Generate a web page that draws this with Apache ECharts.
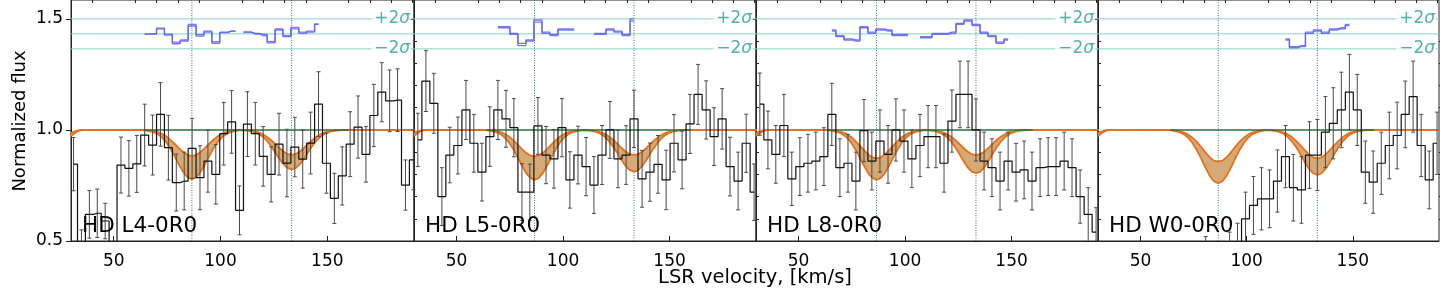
<!DOCTYPE html>
<html><head><meta charset="utf-8">
<script src="https://cdn.jsdelivr.net/npm/echarts@6/dist/echarts.min.js"></script>
<style>html,body{margin:0;padding:0;background:#fff}#c{width:1440px;height:288px}</style>
</head><body><div id="c"></div>
<script>
// ---------------- DATA ----------------
const panelNames = ['HD L4-0R0', 'HD L5-0R0', 'HD L8-0R0', 'HD W0-0R0'];
const componentVel = [86.6, 133.3];
const sigmaLevels = [1.5, 1.4325, 1.365];
const sigmaLabelLevels = [1.5, 1.365];
const sigmaLabels = ['+2σ', '−2σ'];
const fitWindow = [64, 160];
const xTicksMajor = [50, 100, 150];
const xTicksMinor = [40, 60, 70, 80, 90, 110, 120, 130, 140, 160, 170, 180, 190];
const yTicksMajor = [0.5, 1.0, 1.5];
const yTicksMinor = [0.6, 0.7, 0.8, 0.9, 1.1, 1.2, 1.3, 1.4];

// Panel 1: HD L4-0R0
const velL4 = [31.2,34.9,38.6,42.3,46.0,49.7,53.4,57.1,60.8,64.5,68.2,71.9,75.6,79.3,83.0,86.7,90.4,94.1,97.8,101.5,105.2,108.9,112.6,116.3,120.0,123.7,127.4,131.1,134.8,138.5,142.2,145.9,149.6,153.3,157.0,160.7,164.4,168.1,171.8,175.5,179.2,182.9,186.6,190.3];
const fluxL4 = [0.846,0.47,0.62,0.625,0.59,0.40,0.842,0.827,0.847,0.977,0.932,1.07,0.92,0.763,0.77,0.917,0.785,0.86,0.80,0.983,1.036,0.638,1.026,0.983,0.881,0.80,0.936,0.851,0.923,0.869,0.941,1.116,0.85,0.692,0.793,0.936,1.013,0.89,1.065,1.17,1.131,1.134,0.752,0.865];
const errL4 = [0.12,0.08,0.107,0.109,0.08,0.07,0.126,0.125,0.128,0.139,0.135,0.143,0.146,0.128,0.13,0.135,0.144,0.14,0.134,0.141,0.141,0.11,0.146,0.141,0.134,0.124,0.139,0.152,0.134,0.131,0.139,0.146,0.135,0.113,0.131,0.146,0.14,0.125,0.14,0.133,0.139,0.141,0.113,0.135];
const resVelL4 = [64.5,68.2,71.9,75.6,79.3,83.0,86.7,90.4,94.1,97.8,101.5,105.2,108.9,112.6,116.3,120.0,123.7,127.4,131.1,134.8,138.5,142.2,145.9];
const resAL4 = [1.431,1.431,1.458,1.431,1.395,1.405,1.468,1.429,1.44,1.397,1.44,1.445,null,1.44,1.435,1.43,1.398,1.455,1.425,1.462,1.44,1.44,1.477];
const resBL4 = [1.431,1.433,1.455,1.427,1.388,1.40,1.475,1.422,1.445,1.39,1.438,1.445,null,1.44,1.432,1.425,1.392,1.45,1.42,1.455,1.435,1.445,1.475];

// Panel 2: HD L5-0R0
const velL5 = [31.8,35.6,39.3,43.1,46.8,50.6,54.4,58.1,61.9,65.6,69.4,73.2,76.9,80.7,84.4,88.2,92.0,95.7,99.5,103.2,107.0,110.8,114.5,118.3,122.0,125.8,129.6,133.3,137.1,140.8,144.6,148.4,152.1,155.9,159.6,163.4,167.2,170.9,174.7,178.4,182.2,186.0,189.7];
const fluxL5 = [0.955,1.22,1.12,0.70,0.887,0.93,1.09,0.94,0.81,0.97,1.09,1.05,1.01,0.72,0.72,1.018,0.887,0.87,1.01,0.775,0.887,0.835,0.752,0.887,1.0,0.87,0.887,1.05,0.78,0.81,0.845,0.775,0.94,0.865,1.027,1.16,1.09,0.97,1.05,0.835,0.77,0.94,0.72];
const errL5 = [0.12,0.137,0.135,0.13,0.125,0.128,0.133,0.13,0.13,0.134,0.133,0.128,0.131,0.128,0.126,0.128,0.129,0.132,0.131,0.127,0.13,0.131,0.128,0.133,0.128,0.13,0.132,0.129,0.128,0.131,0.13,0.134,0.129,0.13,0.133,0.135,0.131,0.13,0.136,0.132,0.13,0.131,0.127];
const resVelL5 = [69.4,73.2,76.9,80.7,84.4,88.2,92.0,95.7,99.5,110.8,118.3,122.0,125.8,129.6,133.3];
const resAL5 = [1.465,1.465,1.435,1.39,1.405,1.495,1.44,1.43,1.455,null,1.435,1.455,1.445,1.43,1.50];
const resBL5 = [1.46,1.46,1.43,1.38,1.40,1.485,1.435,1.425,1.45,null,1.43,1.45,1.44,1.425,1.49];

// Panel 3: HD L8-0R0
const velL8 = [31.8,35.6,39.3,43.1,46.8,50.6,54.4,58.1,61.9,65.6,69.4,73.2,76.9,80.7,84.4,88.2,92.0,95.7,99.5,103.2,107.0,110.8,114.5,118.3,122.0,125.8,129.6,133.3,137.1,140.8,144.6,148.4,152.1,155.9,159.6,163.4,167.2,170.9,174.7,178.4,182.2,186.0,189.7];
const fluxL8 = [1.116,0.955,0.89,1.02,0.78,0.835,0.85,0.86,0.88,1.07,0.83,0.85,0.77,0.997,0.86,0.95,0.89,1.0,0.95,0.87,0.93,0.97,0.97,0.85,1.04,1.16,1.16,1.0,0.86,0.83,0.77,0.86,0.81,0.82,0.77,0.83,0.835,0.835,0.86,0.83,0.70,0.62,0.54];
const errL8 = [0.14,0.13,0.13,0.14,0.12,0.13,0.13,0.13,0.13,0.14,0.13,0.13,0.13,0.14,0.13,0.14,0.13,0.14,0.14,0.13,0.14,0.14,0.14,0.13,0.14,0.15,0.15,0.14,0.13,0.13,0.13,0.13,0.13,0.13,0.13,0.13,0.13,0.13,0.13,0.13,0.12,0.12,0.11];
const resVelL8 = [65.6,69.4,73.2,76.9,80.7,84.4,88.2,92.0,95.7,99.5,103.2,110.8,114.5,118.3,122.0,125.8,129.6,133.3,137.1,140.8,144.6,148.4];
const resAL8 = [1.45,1.425,1.41,1.405,1.465,1.44,1.455,1.45,1.43,1.43,null,1.42,1.435,1.435,1.44,1.48,1.495,1.475,1.44,1.425,1.395,1.41];
const resBL8 = [1.445,1.42,1.405,1.40,1.46,1.435,1.45,1.445,1.425,1.425,null,1.415,1.43,1.43,1.435,1.475,1.49,1.47,1.435,1.42,1.39,1.405];

// Panel 4: HD W0-0R0
const velW0 = [31.8,35.6,39.3,43.1,46.8,50.6,54.4,58.1,61.9,65.6,69.4,73.2,76.9,80.7,84.4,88.2,92.0,95.7,99.5,103.2,107.0,110.8,114.5,118.3,122.0,125.8,129.6,133.3,137.1,140.8,144.6,148.4,152.1,155.9,159.6,163.4,167.2,170.9,174.7,178.4,182.2,186.0,189.7];
const fluxW0 = [0.42,0.38,0.35,0.40,0.37,0.33,0.36,0.41,0.38,0.35,0.40,0.42,0.39,0.44,0.37,0.41,0.45,0.48,0.60,0.66,0.69,0.69,0.77,0.88,0.74,0.73,0.887,0.887,0.99,1.03,1.09,1.17,1.09,0.81,0.765,0.85,0.93,0.975,1.07,1.15,0.93,0.775,0.94];
const errW0 = [0.08,0.09,0.08,0.09,0.08,0.07,0.09,0.08,0.09,0.08,0.09,0.08,0.09,0.08,0.09,0.08,0.09,0.10,0.12,0.13,0.14,0.13,0.14,0.14,0.15,0.15,0.15,0.16,0.16,0.16,0.17,0.17,0.16,0.14,0.14,0.14,0.15,0.15,0.15,0.16,0.14,0.13,0.14];
const resVelW0 = [118.3,122.0,125.8,129.6,133.3,137.1,140.8,144.6,148.4];
const resAW0 = [1.41,1.375,1.38,1.44,1.45,1.44,1.455,1.46,1.475];
const resBW0 = [1.405,1.37,1.375,1.435,1.445,1.435,1.45,1.455,1.47];

// Model (absorption fit band: upper and lower edges)
const modelVel = [30,31,32,33,34,35,36,40,62.6,64.6,66.6,68.6,70.6,72.6,74.6,76.6,78.6,80.6,82.6,84.6,86.6,88.6,90.6,92.6,94.6,96.6,98.6,100.6,102.6,104.6,106.6,108.6,110,111.3,113.3,115.3,117.3,119.3,121.3,123.3,125.3,127.3,129.3,131.3,133.3,135.3,137.3,139.3,141.3,143.3,145.3,147.3,149.3,151.3,153.3,155.3,157.3,160,191];
const modelHiL4 = [0.985,0.99,0.994,0.997,0.999,1,1,1,1.0,.999,.998,.995,.990,.982,.971,.955,.937,.917,.900,.887,.883,.887,.900,.917,.937,.955,.971,.982,.990,.995,.998,.999,.999,.999,.998,.995,.991,.983,.972,.957,.940,.921,.904,.892,.888,.892,.904,.921,.940,.957,.972,.983,.991,.995,.998,.999,1.0,1,1];
const modelLoL4 = [.972,.98,.987,.993,.997,.999,1,1,.999,.998,.995,.990,.981,.966,.945,.915,.880,.843,.810,.786,.778,.786,.810,.843,.880,.915,.945,.966,.981,.990,.995,.998,.998,.998,.996,.992,.985,.973,.956,.932,.904,.874,.847,.829,.822,.829,.847,.874,.904,.932,.956,.973,.985,.992,.996,.998,.999,1,1];
const modelHiL5 = [0.985,0.99,0.994,0.997,0.999,1,1,1,1.0,.999,.997,.995,.990,.982,.970,.954,.935,.915,.897,.885,.880,.885,.897,.915,.935,.954,.970,.982,.990,.995,.997,.999,.999,.999,.998,.995,.990,.983,.972,.957,.939,.920,.903,.891,.887,.891,.903,.920,.939,.957,.972,.983,.990,.995,.998,.999,1.0,1,1];
const modelLoL5 = [.972,.98,.987,.993,.997,.999,1,1,.999,.998,.995,.990,.981,.966,.944,.914,.879,.841,.807,.784,.775,.784,.807,.841,.879,.914,.944,.966,.981,.990,.995,.998,.998,.998,.996,.992,.984,.972,.953,.928,.899,.867,.839,.819,.812,.819,.839,.867,.899,.928,.953,.972,.984,.992,.996,.998,.999,1,1];
const modelHiL8 = [0.985,0.99,0.994,0.997,0.999,1,1,1,1.0,.999,.997,.994,.989,.981,.968,.951,.931,.910,.890,.877,.872,.877,.890,.910,.931,.951,.968,.981,.989,.994,.997,.999,.999,.999,.998,.995,.990,.983,.972,.957,.939,.920,.903,.891,.887,.891,.903,.920,.939,.957,.972,.983,.990,.995,.998,.999,1.0,1,1];
const modelLoL8 = [.972,.98,.987,.993,.997,.999,1,1,.999,.998,.995,.990,.981,.966,.944,.914,.879,.841,.807,.784,.775,.784,.807,.841,.879,.914,.944,.966,.981,.990,.995,.998,.998,.998,.996,.991,.983,.971,.951,.926,.895,.862,.833,.812,.805,.812,.833,.862,.895,.926,.951,.971,.983,.991,.996,.998,.999,1,1];
const modelHiW0 = [0.985,0.99,0.994,0.997,0.999,1,1,1,1.0,.999,.997,.994,.988,.978,.964,.946,.923,.899,.877,.862,.857,.862,.877,.899,.923,.946,.964,.978,.988,.994,.997,.999,.999,.999,.997,.994,.989,.981,.968,.951,.931,.910,.890,.877,.872,.877,.890,.910,.931,.951,.968,.981,.989,.994,.997,.999,1.0,1,1];
const modelLoW0 = [.972,.98,.987,.993,.997,.999,1,1,.999,.998,.995,.989,.980,.964,.940,.909,.871,.830,.794,.769,.760,.769,.794,.830,.871,.909,.940,.964,.980,.989,.995,.998,.998,.998,.996,.991,.983,.969,.949,.923,.891,.856,.826,.805,.797,.805,.826,.856,.891,.923,.949,.969,.983,.991,.996,.998,.999,1,1];

// ---------------- LAYOUT / STYLE ----------------
const FONT = 'DejaVu Sans';
const GL = [71, 414, 756, 1098], GW = [343, 342, 342, 341], GT = 0, GH = 241;
const xMin = 30, xMax = 190.6, yMin = 0.5, yMax = 1.585;
const AX = '#222';

const panels = [
  {name: panelNames[0], vel: velL4, flux: fluxL4, err: errL4, rv: resVelL4, ra: resAL4, rb: resBL4, hi: modelHiL4, lo: modelLoL4},
  {name: panelNames[1], vel: velL5, flux: fluxL5, err: errL5, rv: resVelL5, ra: resAL5, rb: resBL5, hi: modelHiL5, lo: modelLoL5},
  {name: panelNames[2], vel: velL8, flux: fluxL8, err: errL8, rv: resVelL8, ra: resAL8, rb: resBL8, hi: modelHiL8, lo: modelLoL8},
  {name: panelNames[3], vel: velW0, flux: fluxW0, err: errW0, rv: resVelW0, ra: resAW0, rb: resBW0, hi: modelHiW0, lo: modelLoW0}
];

function renderErr(params, api) {
  const v = api.value(0), f = api.value(1), e = api.value(2);
  const top = api.coord([v, f + e]);
  const bot = api.coord([v, f - e]);
  const cs = params.coordSys;
  const y0 = cs.y, y1 = cs.y + cs.height;
  const ya = Math.max(top[1], y0), yb = Math.min(bot[1], y1);
  if (ya >= yb) return null;
  const x = top[0];
  const st = {stroke: '#4a4a4a', lineWidth: 1};
  const ch = [{type: 'line', shape: {x1: x, y1: ya, x2: x, y2: yb}, style: st}];
  if (top[1] >= y0) ch.push({type: 'line', shape: {x1: x - 2, y1: top[1], x2: x + 2, y2: top[1]}, style: st});
  if (bot[1] <= y1) ch.push({type: 'line', shape: {x1: x - 2, y1: bot[1], x2: x + 2, y2: bot[1]}, style: st});
  return {type: 'group', children: ch};
}

function bandRenderer(hi, lo) {
  return function (params, api) {
    if (params.dataIndex !== 0) return null;
    const pts = [];
    for (let k = 0; k < modelVel.length; k++) pts.push(api.coord([modelVel[k], hi[k]]));
    for (let k = modelVel.length - 1; k >= 0; k--) pts.push(api.coord([modelVel[k], lo[k]]));
    return {type: 'polygon', shape: {points: pts}, style: {fill: '#d5aa76', stroke: null}};
  };
}

const grid = [], xAxis = [], yAxis = [], series = [], graphic = [];
panels.forEach((p, i) => {
  grid.push({left: GL[i], top: GT, width: GW[i], height: GH, show: true, borderColor: AX, borderWidth: 1, backgroundColor: 'transparent'});
  xAxis.push({type: 'value', gridIndex: i, min: xMin, max: xMax,
    axisLine: {show: true, onZero: false, lineStyle: {color: AX}},
    axisTick: {show: true, inside: true, length: 5, customValues: xTicksMajor, lineStyle: {color: AX}},
    axisLabel: {show: true, customValues: xTicksMajor, margin: 12, fontSize: 17, color: '#000', fontFamily: FONT},
    splitLine: {show: false}});
  xAxis.push({type: 'value', gridIndex: i, min: xMin, max: xMax,
    axisLine: {show: false, onZero: false},
    axisTick: {show: true, inside: true, length: 3, customValues: xTicksMinor, lineStyle: {color: AX}},
    axisLabel: {show: false}, splitLine: {show: false}});
  yAxis.push({type: 'value', gridIndex: i, min: yMin, max: yMax,
    axisLine: {show: true, onZero: false, lineStyle: {color: AX}},
    axisTick: {show: true, inside: false, length: 5, customValues: yTicksMajor, lineStyle: {color: AX}},
    axisLabel: {show: i === 0, customValues: yTicksMajor, margin: 8, fontSize: 17, color: '#000', fontFamily: FONT, formatter: v => v.toFixed(1)},
    splitLine: {show: false}});
  yAxis.push({type: 'value', gridIndex: i, min: yMin, max: yMax,
    axisLine: {show: false, onZero: false},
    axisTick: {show: true, inside: false, length: 3, customValues: yTicksMinor, lineStyle: {color: AX}},
    axisLabel: {show: false}, splitLine: {show: false}});

  const xi = 2 * i, yi = 2 * i;
  const base = {xAxisIndex: xi, yAxisIndex: yi, silent: true, animation: false};

  sigmaLevels.forEach(lv => {
    series.push(Object.assign({}, base, {type: 'line', symbol: 'none', z: 1,
      data: [[xMin, lv], [xMax, lv]], lineStyle: {color: '#86d3c6', width: 1}}));
  });
  componentVel.forEach(cv => {
    series.push(Object.assign({}, base, {type: 'line', symbol: 'none', z: 1,
      data: [[cv, yMin], [cv, yMax]], lineStyle: {color: '#2f7a72', width: 1, type: [1, 1.5]}}));
  });
  series.push(Object.assign({}, base, {type: 'custom', z: 2, renderItem: bandRenderer(p.hi, p.lo),
    encode: {x: 0, y: [1, 2]},
    data: modelVel.map((v, k) => [v, p.hi[k], p.lo[k]])}));
  [p.hi, p.lo].forEach(edge => {
    series.push(Object.assign({}, base, {type: 'line', symbol: 'none', z: 2,
      data: modelVel.map((v, k) => [v, edge[k]]), lineStyle: {color: '#e6701b', width: 1.8}}));
  });
  series.push(Object.assign({}, base, {type: 'line', symbol: 'none', z: 3,
    data: [[fitWindow[0], 1], [fitWindow[1], 1]], lineStyle: {color: '#2b6e3c', width: 1.5}}));
  series.push(Object.assign({}, base, {type: 'line', symbol: 'none', z: 4, step: 'middle',
    data: p.vel.map((v, k) => [v, p.flux[k]]), lineStyle: {color: '#111', width: 1.2}}));
  series.push(Object.assign({}, base, {type: 'custom', z: 4, renderItem: renderErr,
    encode: {x: 0, y: 1},
    data: p.vel.map((v, k) => [v, p.flux[k], p.err[k]])}));
  [p.ra, p.rb].forEach(arr => {
    series.push(Object.assign({}, base, {type: 'line', symbol: 'none', z: 5, step: 'middle', connectNulls: false,
      data: p.rv.map((v, k) => [v, arr[k] == null ? '-' : arr[k]]),
      lineStyle: {color: 'rgba(95,95,245,0.85)', width: 1.3}}));
  });
  series.push(Object.assign({}, base, {type: 'scatter', symbolSize: 0, z: 6,
    data: sigmaLabelLevels.map((lv, k) => [xMax, lv, sigmaLabels[k]]),
    label: {show: true, position: 'left', distance: 3, color: '#2a9d90', fontSize: 17, fontFamily: FONT,
      backgroundColor: '#fff', padding: [0, 1, 0, 3],
      formatter: q => q.data[2].replace('σ', '{i|σ}'),
      rich: {i: {fontStyle: 'italic', fontSize: 17, color: '#2a9d90', fontFamily: FONT}}}}));

  graphic.push({type: 'text', z: 100, left: GL[i] + 11, top: 215,
    style: {text: p.name, font: '21.5px "DejaVu Sans"', fill: '#000'}});
});

graphic.push({type: 'text', z: 100, x: 20, y: 121, rotation: Math.PI / 2,
  style: {text: 'Normalized flux', font: '18px "DejaVu Sans"', fill: '#000', align: 'center', verticalAlign: 'middle'}});
graphic.push({type: 'text', z: 100, x: 755, y: 278,
  style: {text: 'LSR velocity, [km/s]', font: '19.5px "DejaVu Sans"', fill: '#000', align: 'center', verticalAlign: 'middle'}});

const chart = echarts.init(document.getElementById('c'), null, {renderer: 'canvas'});
chart.setOption({animation: false, backgroundColor: '#fff', grid, xAxis, yAxis, series, graphic});
</script>
</body></html>
